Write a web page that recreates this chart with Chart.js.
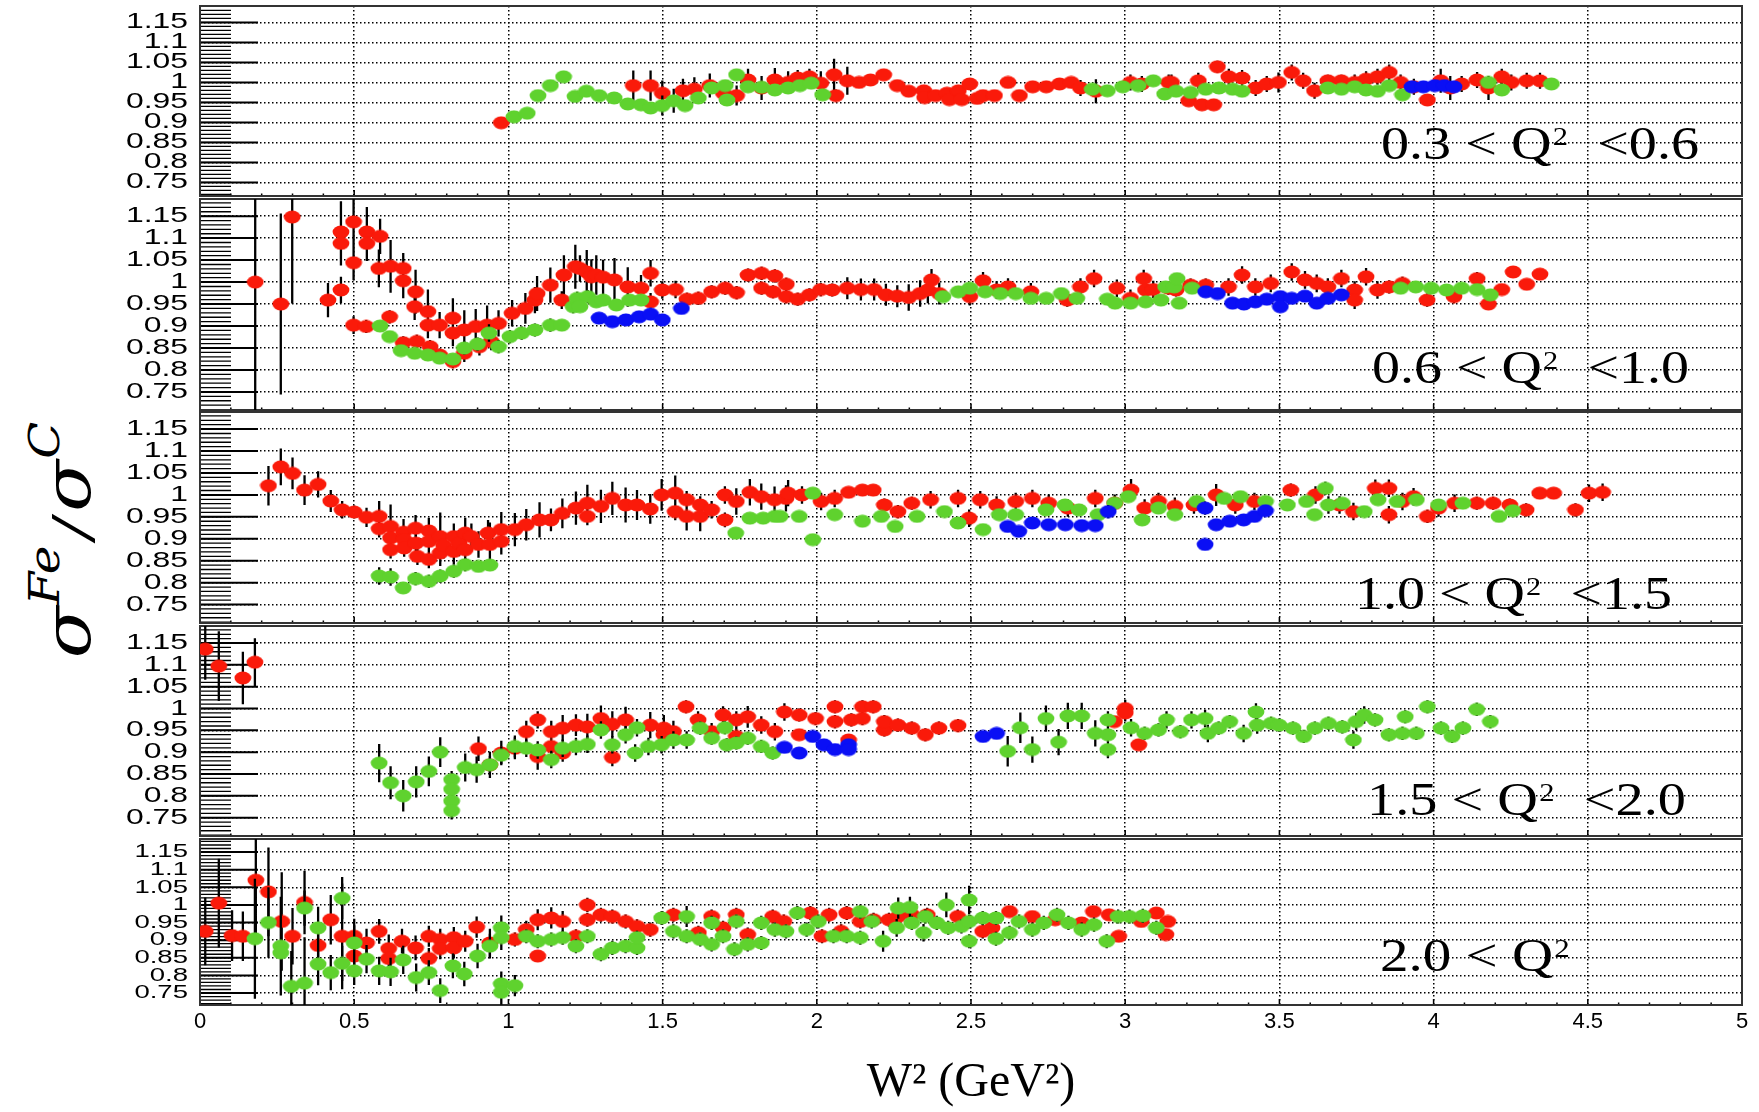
<!DOCTYPE html>
<html>
<head>
<meta charset="utf-8">
<script src="https://cdn.jsdelivr.net/npm/chart.js@4.4.1/dist/chart.umd.min.js"></script>
<style>
  html, body { margin: 0; padding: 0; background: #fff; }
  body { width: 1759px; height: 1112px; position: relative; overflow: hidden; }
  canvas.panel { position: absolute; left: 0; }
  #ytitle {
    position: absolute; left: 68px; top: 540px;
    transform: translate(-50%, -50%) rotate(-90deg) scaleX(1.15);
    white-space: nowrap; color: #000; line-height: 1;
    font-family: "DejaVu Serif", serif; font-style: italic;
  }
  #ytitle .sg { font-size: 66px; }
  #ytitle .sp { font-size: 42px; position: relative; top: -31px; margin-left: 1px; }
  #ytitle .sl { font-size: 52px; margin: 0 6px; }
</style>
</head>
<body>
<div id="ytitle"><span class="sg">σ</span><span class="sp">Fe</span><span class="sl">/</span><span class="sg">σ</span><span class="sp">C</span></div>
<script>
// ---- axis ticks ----
const xTickValues = [0, 0.5, 1, 1.5, 2, 2.5, 3, 3.5, 4, 4.5, 5];
const xTickLabels = ['0', '0.5', '1', '1.5', '2', '2.5', '3', '3.5', '4', '4.5', '5'];
const yTickValues = [0.75, 0.8, 0.85, 0.9, 0.95, 1, 1.05, 1.1, 1.15];
const yTickLabels = ['0.75', '0.8', '0.85', '0.9', '0.95', '1', '1.05', '1.1', '1.15'];

// ---- Q^2 bins ----
const q2Low = ['0.3', '0.6', '1.0', '1.5', '2.0'];
const q2High = ['0.6', '1.0', '1.5', '2.0', null];

// ---- ratio points: [W^2, sigma_Fe/sigma_C, error] ----
const q1Red = [[0.977,0.899,0.01],[1.405,0.992,0.038],[1.461,0.992,0.038],[1.499,0.973,0.032],[1.566,0.979,0.03],[1.603,0.983,0.03],[1.653,0.992,0.03],[1.697,0.973,0.028],[1.740,0.967,0.025],[1.777,1.006,0.028],[1.821,0.986,0.03],[1.864,1.006,0.03],[1.907,1.000,0.028],[1.938,1.011,0.02],[1.976,1.014,0.02],[2.013,0.998,0.03],[2.056,1.019,0.04],[2.062,0.967,0.015],[2.099,1.004,0.035],[2.137,1.000,0.012],[2.174,1.006,0.012],[2.217,1.019,0.01],[2.261,0.992,0.01],[2.298,0.978,0.01],[2.347,0.979,0.01],[2.350,0.962,0.01],[2.385,0.967,0.01],[2.422,0.973,0.01],[2.430,0.957,0.01],[2.459,0.979,0.01],[2.470,0.957,0.01],[2.496,0.996,0.012],[2.520,0.960,0.01],[2.539,0.967,0.01],[2.576,0.967,0.01],[2.620,1.000,0.01],[2.657,0.967,0.01],[2.700,0.989,0.01],[2.744,0.989,0.01],[2.787,0.996,0.01],[2.825,1.000,0.012],[2.855,0.986,0.02],[2.905,0.978,0.03],[3.017,1.000,0.02],[3.054,0.996,0.02],[3.141,1.000,0.02],[3.150,1.000,0.02],[3.206,0.954,0.01],[3.249,0.944,0.01],[3.287,0.944,0.01],[3.237,1.004,0.02],[3.299,1.039,0.015],[3.336,1.014,0.02],[3.379,1.011,0.02],[3.423,0.986,0.02],[3.459,0.996,0.02],[3.497,1.000,0.025],[3.540,1.025,0.02],[3.577,1.004,0.02],[3.614,0.979,0.02],[3.657,1.004,0.015],[3.701,1.004,0.015],[3.744,1.000,0.02],[3.781,1.008,0.02],[3.818,1.014,0.02],[3.856,1.025,0.02],[3.893,1.000,0.02],[3.936,0.989,0.02],[3.980,0.956,0.01],[4.023,1.004,0.03],[4.054,0.986,0.03],[4.091,0.996,0.02],[4.141,1.006,0.02],[4.178,0.986,0.03],[4.221,1.014,0.02],[4.252,1.000,0.02],[4.302,1.004,0.02],[4.345,1.004,0.02]];
const q1Green = [[1.018,0.914,0.01],[1.061,0.923,0.01],[1.096,0.967,0.01],[1.136,0.992,0.01],[1.179,1.014,0.01],[1.216,0.965,0.01],[1.253,0.978,0.01],[1.294,0.967,0.01],[1.343,0.961,0.01],[1.387,0.946,0.01],[1.430,0.944,0.01],[1.461,0.936,0.01],[1.499,0.942,0.025],[1.536,0.954,0.03],[1.573,0.942,0.01],[1.616,0.961,0.01],[1.659,0.986,0.01],[1.703,0.992,0.01],[1.709,0.956,0.01],[1.740,1.019,0.01],[1.777,0.989,0.01],[1.821,0.988,0.01],[1.864,0.981,0.01],[1.907,0.986,0.01],[1.945,0.992,0.01],[1.982,0.998,0.01],[2.019,0.969,0.01],[2.893,0.983,0.01],[2.942,0.979,0.01],[2.992,0.989,0.01],[3.042,0.992,0.01],[3.091,1.004,0.01],[3.128,0.971,0.01],[3.165,0.978,0.01],[3.212,0.975,0.01],[3.261,0.983,0.01],[3.304,0.986,0.01],[3.348,0.983,0.01],[3.379,0.978,0.01],[3.657,0.986,0.01],[3.701,0.983,0.01],[3.744,0.989,0.01],[3.781,0.981,0.01],[3.818,0.978,0.01],[3.856,0.992,0.01],[3.899,0.969,0.01],[4.178,1.000,0.01],[4.221,0.981,0.01],[4.382,0.996,0.01]];
const q1Blue = [[3.930,0.989,0.005],[3.967,0.989,0.005],[4.004,0.992,0.005],[4.035,0.992,0.005],[4.066,0.989,0.005]];

const q2Red = [[0.179,1.000,0.3],[0.262,0.950,0.206],[0.299,1.148,0.197],[0.415,0.959,0.039],[0.457,1.114,0.07],[0.457,1.088,0.05],[0.457,0.982,0.03],[0.498,1.137,0.09],[0.498,1.044,0.04],[0.498,0.902,0.02],[0.539,0.899,0.015],[0.541,1.114,0.057],[0.541,1.088,0.04],[0.584,1.104,0.04],[0.580,1.031,0.043],[0.615,0.921,0.015],[0.618,1.036,0.06],[0.659,1.031,0.035],[0.659,1.003,0.04],[0.659,0.862,0.015],[0.696,0.944,0.03],[0.699,0.978,0.05],[0.703,0.865,0.015],[0.739,0.933,0.05],[0.739,0.902,0.03],[0.746,0.853,0.015],[0.777,0.902,0.03],[0.777,0.834,0.015],[0.820,0.918,0.045],[0.820,0.884,0.03],[0.820,0.819,0.015],[0.857,0.891,0.045],[0.857,0.838,0.02],[0.894,0.899,0.04],[0.906,0.853,0.02],[0.931,0.902,0.045],[0.944,0.865,0.02],[0.968,0.906,0.03],[1.012,0.929,0.03],[1.055,0.940,0.035],[1.086,0.959,0.03],[1.093,0.974,0.04],[1.136,0.993,0.04],[1.173,0.959,0.02],[1.180,1.016,0.045],[1.217,1.035,0.05],[1.232,1.031,0.03],[1.254,1.023,0.05],[1.269,1.012,0.04],[1.285,1.016,0.045],[1.307,1.011,0.04],[1.344,1.005,0.05],[1.387,0.989,0.045],[1.430,0.986,0.03],[1.461,1.020,0.03],[1.461,0.955,0.02],[1.499,0.982,0.02],[1.542,0.983,0.02],[1.579,0.961,0.015],[1.616,0.963,0.015],[1.659,0.978,0.015],[1.703,0.986,0.015],[1.740,0.976,0.015],[1.777,1.016,0.015],[1.821,1.020,0.015],[1.864,1.014,0.015],[1.901,0.995,0.015],[1.821,0.986,0.015],[1.858,0.978,0.015],[1.901,0.967,0.015],[1.938,0.961,0.015],[1.976,0.971,0.015],[2.013,0.983,0.015],[2.050,0.982,0.015],[2.099,0.986,0.025],[2.143,0.983,0.025],[2.186,0.983,0.025],[2.224,0.971,0.025],[2.261,0.968,0.025],[2.298,0.965,0.03],[2.335,0.974,0.03],[2.360,0.982,0.03],[2.372,1.005,0.025],[2.397,0.974,0.025],[2.496,0.967,0.02],[2.539,1.003,0.02],[2.583,0.982,0.02],[2.620,0.989,0.02],[2.694,0.978,0.02],[2.812,0.959,0.015],[2.855,0.989,0.02],[2.899,1.008,0.02],[2.973,0.986,0.02],[3.017,0.963,0.02],[3.060,1.008,0.02],[3.066,0.982,0.02],[3.091,0.983,0.02],[3.140,0.986,0.015],[3.165,0.982,0.015],[3.212,0.993,0.015],[3.261,0.993,0.015],[3.335,0.989,0.02],[3.379,1.016,0.02],[3.422,0.989,0.02],[3.472,0.997,0.02],[3.540,1.023,0.02],[3.583,1.005,0.02],[3.621,0.997,0.02],[3.657,0.989,0.02],[3.701,1.008,0.02],[3.744,0.982,0.02],[3.744,0.959,0.02],[3.781,1.012,0.02],[3.818,0.982,0.02],[3.856,0.989,0.015],[3.899,0.997,0.015],[3.979,0.959,0.015],[4.066,0.967,0.015],[4.141,1.008,0.015],[4.178,0.950,0.01],[4.221,0.983,0.01],[4.258,1.023,0.01],[4.302,0.995,0.01],[4.345,1.018,0.01]];
const q2Green = [[0.584,0.900,0.01],[0.615,0.876,0.01],[0.652,0.844,0.01],[0.696,0.838,0.01],[0.739,0.834,0.01],[0.777,0.827,0.01],[0.820,0.825,0.01],[0.857,0.850,0.015],[0.900,0.859,0.015],[0.937,0.884,0.02],[0.968,0.853,0.015],[1.005,0.876,0.015],[1.043,0.884,0.015],[1.086,0.891,0.015],[1.136,0.902,0.015],[1.173,0.902,0.01],[1.210,0.944,0.015],[1.223,0.963,0.015],[1.257,0.967,0.015],[1.232,0.944,0.01],[1.285,0.955,0.01],[1.307,0.959,0.01],[1.350,0.948,0.01],[1.393,0.959,0.01],[1.430,0.959,0.01],[2.409,0.967,0.01],[2.459,0.978,0.01],[2.496,0.986,0.01],[2.546,0.978,0.01],[2.595,0.974,0.01],[2.645,0.974,0.01],[2.694,0.963,0.01],[2.744,0.963,0.01],[2.793,0.974,0.01],[2.843,0.963,0.01],[2.942,0.961,0.01],[2.967,0.952,0.01],[3.017,0.952,0.01],[3.066,0.955,0.01],[3.116,0.959,0.01],[3.131,0.989,0.01],[3.159,0.989,0.01],[3.168,1.008,0.01],[3.175,0.952,0.01],[3.217,0.986,0.01],[3.893,0.986,0.01],[3.942,0.989,0.01],[3.992,0.986,0.01],[4.042,0.982,0.01],[4.091,0.986,0.01],[4.141,0.983,0.01],[4.184,0.971,0.01]];
const q2Blue = [[1.294,0.918,0.005],[1.337,0.910,0.005],[1.381,0.914,0.005],[1.424,0.921,0.005],[1.461,0.927,0.005],[1.499,0.914,0.005],[1.561,0.940,0.005],[3.261,0.978,0.005],[3.299,0.974,0.005],[3.348,0.952,0.005],[3.385,0.950,0.005],[3.422,0.955,0.005],[3.459,0.961,0.005],[3.503,0.967,0.005],[3.503,0.944,0.005],[3.540,0.963,0.005],[3.583,0.968,0.005],[3.621,0.952,0.005],[3.657,0.963,0.005],[3.701,0.971,0.005]];

const q3Red = [[0.222,1.021,0.045],[0.262,1.064,0.042],[0.300,1.049,0.036],[0.339,1.011,0.034],[0.383,1.024,0.03],[0.424,0.986,0.025],[0.461,0.966,0.02],[0.500,0.961,0.015],[0.540,0.949,0.022],[0.581,0.951,0.035],[0.581,0.923,0.02],[0.618,0.928,0.05],[0.618,0.902,0.03],[0.618,0.875,0.02],[0.660,0.915,0.03],[0.662,0.898,0.03],[0.662,0.879,0.02],[0.699,0.924,0.03],[0.700,0.890,0.03],[0.705,0.860,0.02],[0.742,0.918,0.03],[0.742,0.894,0.03],[0.742,0.853,0.02],[0.779,0.905,0.055],[0.779,0.868,0.03],[0.790,0.885,0.03],[0.823,0.905,0.03],[0.823,0.871,0.03],[0.840,0.890,0.03],[0.860,0.913,0.035],[0.860,0.875,0.03],[0.880,0.905,0.03],[0.903,0.887,0.03],[0.934,0.913,0.03],[0.940,0.887,0.05],[0.977,0.921,0.04],[0.977,0.894,0.03],[1.021,0.921,0.038],[1.058,0.932,0.036],[1.101,0.943,0.04],[1.138,0.943,0.026],[1.175,0.958,0.034],[1.219,0.970,0.038],[1.256,0.981,0.042],[1.256,0.951,0.02],[1.300,0.974,0.038],[1.337,0.992,0.038],[1.380,0.977,0.04],[1.417,0.977,0.034],[1.460,0.968,0.034],[1.497,1.000,0.036],[1.541,1.004,0.04],[1.541,0.962,0.02],[1.578,0.989,0.02],[1.578,0.951,0.032],[1.622,0.977,0.02],[1.622,0.951,0.034],[1.659,0.966,0.02],[1.702,1.000,0.02],[1.702,0.943,0.017],[1.739,0.985,0.03],[1.783,1.006,0.03],[1.820,0.996,0.03],[1.863,0.989,0.03],[1.900,0.992,0.03],[1.907,1.004,0.03],[1.952,1.000,0.02],[2.014,0.985,0.02],[2.058,0.992,0.02],[2.103,1.006,0.01],[2.148,1.011,0.01],[2.183,1.011,0.01],[2.219,0.977,0.015],[2.263,0.962,0.015],[2.308,0.981,0.015],[2.369,0.989,0.02],[2.458,0.992,0.02],[2.494,0.947,0.02],[2.530,0.989,0.02],[2.583,0.977,0.02],[2.645,0.985,0.02],[2.699,0.992,0.02],[2.752,0.981,0.02],[2.814,0.970,0.02],[2.903,0.992,0.02],[2.966,0.981,0.02],[3.019,1.011,0.025],[3.063,0.970,0.02],[3.108,0.985,0.02],[3.161,0.974,0.02],[3.223,0.977,0.02],[3.295,1.000,0.025],[3.357,0.977,0.02],[3.419,0.985,0.02],[3.537,1.011,0.015],[3.617,1.000,0.02],[3.695,0.977,0.02],[3.740,0.962,0.02],[3.811,1.015,0.02],[3.855,1.015,0.02],[3.855,0.955,0.02],[3.899,0.985,0.02],[3.935,0.996,0.02],[3.980,0.951,0.015],[4.016,0.970,0.02],[4.068,0.981,0.02],[4.140,0.981,0.015],[4.193,0.981,0.015],[4.247,0.977,0.015],[4.300,0.966,0.015],[4.344,1.004,0.012],[4.389,1.004,0.012],[4.460,0.966,0.015],[4.504,1.004,0.02],[4.548,1.006,0.02]];
const q3Green = [[0.581,0.815,0.02],[0.618,0.813,0.02],[0.659,0.788,0.01],[0.699,0.809,0.015],[0.742,0.803,0.015],[0.779,0.815,0.015],[0.823,0.826,0.015],[0.860,0.841,0.015],[0.903,0.837,0.01],[0.940,0.840,0.01],[1.737,0.913,0.01],[1.783,0.947,0.01],[1.826,0.947,0.01],[1.864,0.951,0.01],[1.881,0.951,0.01],[1.943,0.951,0.01],[1.987,0.898,0.01],[1.987,1.004,0.01],[2.058,0.955,0.01],[2.148,0.940,0.01],[2.209,0.951,0.01],[2.254,0.928,0.01],[2.325,0.951,0.01],[2.414,0.962,0.01],[2.458,0.936,0.01],[2.539,0.921,0.01],[2.592,0.955,0.01],[2.645,0.955,0.01],[2.743,0.966,0.01],[2.805,0.977,0.01],[2.850,0.966,0.01],[2.912,0.955,0.01],[2.966,0.981,0.01],[3.010,0.996,0.01],[3.055,0.943,0.01],[3.108,0.970,0.01],[3.161,0.955,0.01],[3.232,0.985,0.01],[3.321,0.992,0.01],[3.374,0.996,0.01],[3.455,0.985,0.01],[3.526,0.977,0.01],[3.588,0.985,0.01],[3.614,0.955,0.01],[3.649,1.015,0.015],[3.659,0.977,0.02],[3.704,0.981,0.01],[3.775,0.962,0.01],[3.820,0.989,0.01],[3.882,0.985,0.01],[3.944,0.989,0.01],[4.016,0.977,0.01],[4.095,0.981,0.01],[4.212,0.951,0.01],[4.257,0.964,0.01]];
const q3Blue = [[2.619,0.928,0.008],[2.655,0.917,0.008],[2.699,0.936,0.008],[2.752,0.932,0.008],[2.806,0.932,0.008],[2.859,0.930,0.008],[2.903,0.930,0.008],[2.945,0.962,0.015],[3.259,0.970,0.015],[3.259,0.887,0.008],[3.295,0.932,0.008],[3.339,0.940,0.008],[3.384,0.943,0.008],[3.419,0.951,0.008],[3.455,0.964,0.008]];

const q4Red = [[0.017,1.136,0.07],[0.061,1.097,0.08],[0.139,1.070,0.06],[0.178,1.106,0.055],[0.903,0.908,0.028],[0.940,0.871,0.02],[0.977,0.898,0.028],[1.021,0.909,0.025],[1.058,0.947,0.025],[1.095,0.974,0.02],[1.095,0.890,0.03],[1.139,0.947,0.025],[1.139,0.913,0.02],[1.176,0.955,0.03],[1.176,0.898,0.02],[1.219,0.962,0.025],[1.256,0.958,0.03],[1.300,0.977,0.03],[1.337,0.964,0.03],[1.337,0.888,0.02],[1.380,0.974,0.03],[1.460,0.962,0.03],[1.504,0.955,0.03],[1.504,0.940,0.02],[1.535,0.947,0.025],[1.576,1.004,0.015],[1.615,0.974,0.02],[1.659,0.947,0.02],[1.696,0.985,0.02],[1.739,0.974,0.02],[1.739,0.936,0.02],[1.776,0.981,0.025],[1.820,0.962,0.02],[1.864,0.947,0.02],[1.895,0.992,0.02],[1.943,0.985,0.015],[1.943,0.940,0.01],[1.996,0.977,0.015],[2.059,1.004,0.015],[2.059,0.970,0.015],[2.103,0.928,0.01],[2.112,0.974,0.015],[2.148,1.004,0.015],[2.148,0.977,0.015],[2.183,1.004,0.015],[2.219,0.951,0.015],[2.219,0.970,0.015],[2.263,0.962,0.015],[2.308,0.955,0.015],[2.352,0.940,0.015],[2.396,0.955,0.015],[2.458,0.961,0.015],[2.965,0.970,0.01],[3.000,1.000,0.02],[3.000,0.990,0.02],[3.044,0.917,0.01]];
const q4Green = [[0.581,0.875,0.044],[0.618,0.830,0.038],[0.659,0.800,0.036],[0.701,0.832,0.036],[0.742,0.856,0.034],[0.779,0.900,0.034],[0.816,0.837,0.02],[0.816,0.815,0.02],[0.816,0.788,0.02],[0.816,0.766,0.02],[0.860,0.865,0.032],[0.897,0.860,0.03],[0.940,0.871,0.03],[0.977,0.893,0.02],[1.021,0.913,0.025],[1.058,0.909,0.02],[1.095,0.905,0.02],[1.139,0.883,0.02],[1.176,0.909,0.02],[1.219,0.913,0.02],[1.256,0.918,0.02],[1.300,0.951,0.02],[1.337,0.917,0.02],[1.380,0.940,0.02],[1.411,0.898,0.02],[1.417,0.956,0.02],[1.454,0.913,0.02],[1.497,0.917,0.02],[1.535,0.928,0.02],[1.578,0.928,0.02],[1.622,0.955,0.015],[1.659,0.932,0.015],[1.702,0.956,0.015],[1.708,0.917,0.015],[1.739,0.921,0.015],[1.776,0.932,0.015],[1.820,0.913,0.015],[1.857,0.898,0.015],[2.619,0.902,0.035],[2.660,0.956,0.035],[2.699,0.906,0.03],[2.743,0.977,0.03],[2.784,0.923,0.03],[2.814,0.983,0.03],[2.859,0.983,0.03],[2.903,0.943,0.03],[2.944,0.974,0.02],[2.944,0.940,0.02],[2.944,0.906,0.02],[3.019,0.956,0.02],[3.063,0.943,0.015],[3.108,0.951,0.015],[3.134,0.974,0.02],[3.179,0.947,0.015],[3.215,0.974,0.02],[3.259,0.977,0.02],[3.268,0.943,0.02],[3.303,0.955,0.015],[3.339,0.970,0.015],[3.384,0.943,0.02],[3.424,0.992,0.02],[3.428,0.962,0.02],[3.473,0.966,0.015],[3.499,0.962,0.015],[3.544,0.955,0.015],[3.579,0.936,0.015],[3.615,0.955,0.015],[3.659,0.966,0.015],[3.704,0.958,0.015],[3.740,0.928,0.02],[3.749,0.970,0.02],[3.775,0.985,0.02],[3.810,0.974,0.015],[3.855,0.940,0.015],[3.899,0.943,0.015],[3.908,0.981,0.015],[3.944,0.943,0.015],[3.980,1.004,0.015],[4.024,0.955,0.015],[4.060,0.936,0.015],[4.095,0.955,0.015],[4.140,0.998,0.015],[4.184,0.970,0.015]];
const q4Blue = [[1.895,0.911,0.01],[1.943,0.898,0.01],[1.987,0.936,0.01],[2.023,0.917,0.01],[2.059,0.906,0.01],[2.103,0.917,0.01],[2.103,0.906,0.01],[2.539,0.936,0.01],[2.583,0.943,0.01]];

const q5Red = [[0.017,0.925,0.096],[0.061,1.005,0.126],[0.104,0.913,0.072],[0.139,0.911,0.07],[0.181,1.070,0.18],[0.222,1.037,0.126],[0.265,0.953,0.14],[0.300,0.911,0.08],[0.339,1.007,0.09],[0.383,0.885,0.06],[0.424,0.958,0.07],[0.461,0.911,0.15],[0.500,0.911,0.05],[0.500,0.855,0.04],[0.540,0.892,0.04],[0.581,0.925,0.035],[0.612,0.876,0.04],[0.612,0.848,0.03],[0.655,0.897,0.035],[0.699,0.878,0.035],[0.742,0.911,0.03],[0.742,0.848,0.03],[0.779,0.902,0.03],[0.779,0.876,0.03],[0.823,0.907,0.03],[0.823,0.878,0.03],[0.860,0.897,0.03],[0.897,0.937,0.03],[0.940,0.892,0.04],[1.021,0.902,0.02],[1.058,0.930,0.025],[1.095,0.958,0.03],[1.095,0.855,0.015],[1.139,0.963,0.03],[1.176,0.953,0.03],[1.219,0.911,0.02],[1.256,1.000,0.02],[1.256,0.958,0.02],[1.300,0.972,0.02],[1.337,0.967,0.02],[1.380,0.953,0.02],[1.417,0.939,0.02],[1.460,0.930,0.02],[1.535,0.972,0.02],[1.616,0.921,0.02],[1.659,0.967,0.02],[1.696,0.935,0.02],[1.739,0.972,0.02],[1.776,0.916,0.02],[1.857,0.967,0.02],[1.893,0.953,0.02],[1.979,0.977,0.02],[2.017,0.911,0.02],[2.040,0.972,0.02],[2.079,0.925,0.02],[2.097,0.977,0.02],[2.141,0.953,0.02],[2.184,0.958,0.02],[2.234,0.958,0.02],[2.264,0.967,0.02],[2.308,0.972,0.02],[2.358,0.972,0.02],[2.457,0.967,0.02],[2.538,0.925,0.02],[2.568,0.935,0.02],[2.625,0.981,0.015],[2.699,0.967,0.015],[2.773,0.958,0.015],[2.859,0.949,0.015],[2.897,0.981,0.015],[2.948,0.972,0.015],[2.979,0.911,0.01],[3.052,0.953,0.015],[3.101,0.977,0.015],[3.138,0.953,0.015],[3.132,0.916,0.01]];
const q5Green = [[0.178,0.904,0.17],[0.222,0.950,0.1],[0.262,0.883,0.14],[0.262,0.864,0.08],[0.296,0.769,0.1],[0.339,0.778,0.13],[0.339,0.991,0.05],[0.383,0.935,0.06],[0.383,0.832,0.06],[0.424,0.808,0.05],[0.461,0.834,0.05],[0.461,1.019,0.06],[0.500,0.892,0.05],[0.500,0.813,0.04],[0.540,0.846,0.04],[0.581,0.813,0.04],[0.618,0.810,0.04],[0.659,0.844,0.04],[0.701,0.794,0.04],[0.742,0.808,0.035],[0.779,0.757,0.035],[0.820,0.827,0.035],[0.857,0.804,0.035],[0.900,0.855,0.035],[0.940,0.883,0.035],[0.977,0.935,0.035],[0.977,0.907,0.035],[0.977,0.776,0.035],[0.977,0.752,0.035],[1.021,0.771,0.03],[1.058,0.911,0.02],[1.095,0.897,0.02],[1.139,0.902,0.02],[1.176,0.907,0.02],[1.219,0.883,0.02],[1.256,0.911,0.02],[1.300,0.860,0.02],[1.337,0.878,0.02],[1.380,0.883,0.02],[1.417,0.878,0.02],[1.417,0.907,0.02],[1.497,0.963,0.02],[1.535,0.925,0.02],[1.578,0.967,0.03],[1.578,0.911,0.02],[1.622,0.902,0.02],[1.659,0.949,0.02],[1.659,0.888,0.02],[1.696,0.911,0.02],[1.733,0.874,0.02],[1.739,0.953,0.02],[1.776,0.888,0.02],[1.820,0.892,0.02],[1.820,0.949,0.02],[1.864,0.930,0.02],[1.900,0.925,0.02],[1.937,0.977,0.02],[1.967,0.930,0.02],[2.005,0.953,0.02],[2.054,0.911,0.02],[2.097,0.911,0.02],[2.141,0.907,0.02],[2.141,0.981,0.02],[2.178,0.953,0.02],[2.215,0.897,0.03],[2.259,0.935,0.025],[2.264,0.991,0.03],[2.302,0.993,0.03],[2.308,0.949,0.02],[2.346,0.921,0.025],[2.352,0.967,0.02],[2.389,0.949,0.02],[2.420,1.000,0.035],[2.426,0.935,0.02],[2.469,0.939,0.02],[2.494,1.014,0.04],[2.494,0.953,0.02],[2.494,0.897,0.02],[2.538,0.963,0.02],[2.581,0.963,0.02],[2.581,0.904,0.02],[2.625,0.921,0.02],[2.656,0.953,0.02],[2.699,0.930,0.02],[2.736,0.949,0.02],[2.779,0.972,0.02],[2.816,0.949,0.02],[2.859,0.930,0.02],[2.899,0.944,0.02],[2.940,0.897,0.02],[2.977,0.967,0.02],[3.014,0.967,0.02],[3.057,0.969,0.02],[3.101,0.935,0.02]];
const q5Blue = [];

const seriesRed = [q1Red, q2Red, q3Red, q4Red, q5Red];
const seriesGreen = [q1Green, q2Green, q3Green, q4Green, q5Green];
const seriesBlue = [q1Blue, q2Blue, q3Blue, q4Blue, q5Blue];

// ---- page layout of the five stacked pads ----
const FRAME_LEFT = 200, FRAME_RIGHT = 1742, PAGE_W = 1759, PAGE_H = 1112;
const pads = [
  { top: 6,   bottom: 196,  yMin: 0.716, yMax: 1.191, tickFont: 22, labelX: 1381, labelBase: 159, labelW: 318 },
  { top: 199, bottom: 410,  yMin: 0.709, yMax: 1.189, tickFont: 22, labelX: 1372, labelBase: 383, labelW: 317 },
  { top: 412, bottom: 623,  yMin: 0.708, yMax: 1.189, tickFont: 22, labelX: 1355, labelBase: 609, labelW: 317 },
  { top: 626, bottom: 836,  yMin: 0.708, yMax: 1.189, tickFont: 22, labelX: 1367, labelBase: 815, labelW: 319 },
  { top: 839, bottom: 1005, yMin: 0.716, yMax: 1.187, tickFont: 19, labelX: 1380, labelBase: 971, labelW: 191 }
];
const COLORS = { red: '#fa1a0a', green: '#5fd22e', blue: '#0a0ff5' };

function makeMarker(color) {
  const c = document.createElement('canvas');
  c.width = 18; c.height = 14;
  const g = c.getContext('2d');
  g.fillStyle = color;
  g.beginPath();
  g.ellipse(9, 7, 8.4, 6.4, 0, 0, Math.PI * 2);
  g.fill();
  return c;
}

const toPoints = arr => arr.map(([w, r, e]) => ({ x: w, y: r, e }));

// ROOT-style pad decoration: tick comb, frame, labels and error bars
const padDecor = {
  id: 'padDecor',
  beforeDatasetsDraw(chart, args, o) {
    const { ctx, chartArea: a, scales: { x, y } } = chart;
    ctx.save();
    ctx.strokeStyle = '#000';
    // minor y ticks every 0.01
    ctx.lineWidth = 1.3;
    ctx.beginPath();
    for (let k = Math.ceil(y.min * 100); k <= Math.floor(y.max * 100); k++) {
      const py = y.getPixelForValue(k / 100);
      ctx.moveTo(a.left, py); ctx.lineTo(a.left + 31, py);
    }
    ctx.stroke();
    // major y ticks
    ctx.lineWidth = 2;
    ctx.beginPath();
    yTickValues.forEach(v => {
      const py = y.getPixelForValue(v);
      ctx.moveTo(a.left, py); ctx.lineTo(a.left + 58, py);
    });
    ctx.stroke();
    // x ticks along the bottom edge
    ctx.lineWidth = 1.5;
    ctx.beginPath();
    for (let k = 1; k < 50; k++) {
      const px = x.getPixelForValue(k / 10);
      const len = (k % 5 === 0) ? 6 : 2.5;
      ctx.moveTo(px, a.bottom); ctx.lineTo(px, a.bottom - len);
    }
    ctx.stroke();
    // frame
    ctx.strokeStyle = '#333';
    ctx.lineWidth = 2;
    ctx.strokeRect(a.left, a.top, a.right - a.left, a.bottom - a.top);
    // y tick labels (wide sans face)
    ctx.fillStyle = '#000';
    ctx.font = o.tickFont + 'px "Liberation Sans", Arial, sans-serif';
    ctx.textAlign = 'right';
    ctx.textBaseline = 'middle';
    yTickValues.forEach((v, i) => {
      ctx.save();
      ctx.translate(188, y.getPixelForValue(v));
      ctx.scale(1.45, 1);
      ctx.fillText(yTickLabels[i], 0, 0);
      ctx.restore();
    });
    ctx.restore();
  },
  beforeDatasetDraw(chart, args) {
    const { ctx, chartArea: a, scales: { y } } = chart;
    const ds = chart.data.datasets[args.index];
    const meta = args.meta;
    ctx.save();
    ctx.beginPath();
    ctx.rect(a.left, a.top, a.right - a.left, a.bottom - a.top);
    ctx.clip();
    ctx.strokeStyle = '#000';
    ctx.lineWidth = 2.3;
    ctx.beginPath();
    ds.data.forEach((p, i) => {
      const el = meta.data[i];
      if (!el || !p.e) return;
      ctx.moveTo(el.x, y.getPixelForValue(p.y + p.e));
      ctx.lineTo(el.x, y.getPixelForValue(p.y - p.e));
    });
    ctx.stroke();
    ctx.restore();
  },
  afterDraw(chart, args, o) {
    const { ctx } = chart;
    const bigFont = '46px "Liberation Serif", "Times New Roman", serif';
    const supFont = '25px "Liberation Serif", "Times New Roman", serif';
    const pre = o.lo + ' < Q';
    const post = o.hi ? '  <' + o.hi : '';
    ctx.save();
    ctx.fillStyle = '#000';
    ctx.textAlign = 'left';
    ctx.textBaseline = 'alphabetic';
    ctx.font = bigFont;
    const w1 = ctx.measureText(pre).width;
    const w3 = post ? ctx.measureText(post).width : 0;
    ctx.font = supFont;
    const w2 = ctx.measureText('2').width + 2;
    const sx = o.labelW / (w1 + w2 + w3);
    ctx.translate(o.labelX, o.labelBase - o.canvasTop);
    ctx.scale(sx, 1);
    ctx.font = bigFont;
    ctx.fillText(pre, 0, 0);
    ctx.font = supFont;
    ctx.fillText('2', w1 + 1, -14);
    if (post) { ctx.font = bigFont; ctx.fillText(post, w1 + w2, 0); }
    ctx.restore();
  }
};

pads.forEach((pad, i) => {
  const last = i === pads.length - 1;
  const canvasTop = pad.top - 3;
  const xAxisH = last ? PAGE_H - pad.bottom : 0;
  const canvasH = last ? PAGE_H - canvasTop : (pad.bottom - pad.top) + 6;
  const cv = document.createElement('canvas');
  cv.className = 'panel';
  cv.width = PAGE_W; cv.height = canvasH;
  cv.style.top = canvasTop + 'px';
  cv.style.width = PAGE_W + 'px'; cv.style.height = canvasH + 'px';
  document.body.appendChild(cv);

  const gridOpts = { color: '#000', lineWidth: 1.5, drawTicks: false };
  const borderOpts = { display: false, dash: [1.5, 2.5] };

  new Chart(cv, {
    type: 'scatter',
    data: {
      datasets: [
        { label: 'red', data: toPoints(seriesRed[i]), order: 3, pointStyle: makeMarker(COLORS.red), pointRadius: 8, backgroundColor: COLORS.red },
        { label: 'green', data: toPoints(seriesGreen[i]), order: 2, pointStyle: makeMarker(COLORS.green), pointRadius: 8, backgroundColor: COLORS.green },
        { label: 'blue', data: toPoints(seriesBlue[i]), order: 1, pointStyle: makeMarker(COLORS.blue), pointRadius: 8, backgroundColor: COLORS.blue }
      ]
    },
    options: {
      responsive: false,
      animation: false,
      events: [],
      devicePixelRatio: 1,
      layout: { autoPadding: false, padding: { left: 0, right: PAGE_W - FRAME_RIGHT, top: 3, bottom: last ? 0 : 3 } },
      plugins: {
        legend: { display: false },
        tooltip: { enabled: false },
        padDecor: {
          tickFont: pad.tickFont, labelX: pad.labelX, labelBase: pad.labelBase, labelW: pad.labelW,
          canvasTop, lo: q2Low[i], hi: q2High[i]
        }
      },
      scales: {
        x: {
          type: 'linear', min: 0, max: 5,
          afterBuildTicks: s => { s.ticks = xTickValues.map(v => ({ value: v })); },
          afterFit: s => { s.height = xAxisH; },
          grid: gridOpts, border: borderOpts,
          ticks: {
            display: last, autoSkip: false, maxRotation: 0, padding: 4, color: '#000',
            font: { family: '"Liberation Sans", Arial, sans-serif', size: 22 },
            callback: (v, idx) => xTickLabels[idx]
          },
          title: {
            display: last, text: 'W² (GeV²)', color: '#000',
            font: { family: '"Liberation Serif", "Times New Roman", serif', size: 48 },
            padding: { top: 0, bottom: 0 }
          }
        },
        y: {
          type: 'linear', min: pad.yMin, max: pad.yMax,
          afterBuildTicks: s => { s.ticks = yTickValues.map(v => ({ value: v })); },
          afterFit: s => { s.width = FRAME_LEFT; },
          grid: gridOpts, border: borderOpts,
          ticks: { display: false }
        }
      }
    },
    plugins: [padDecor]
  });
});
</script>
</body>
</html>
